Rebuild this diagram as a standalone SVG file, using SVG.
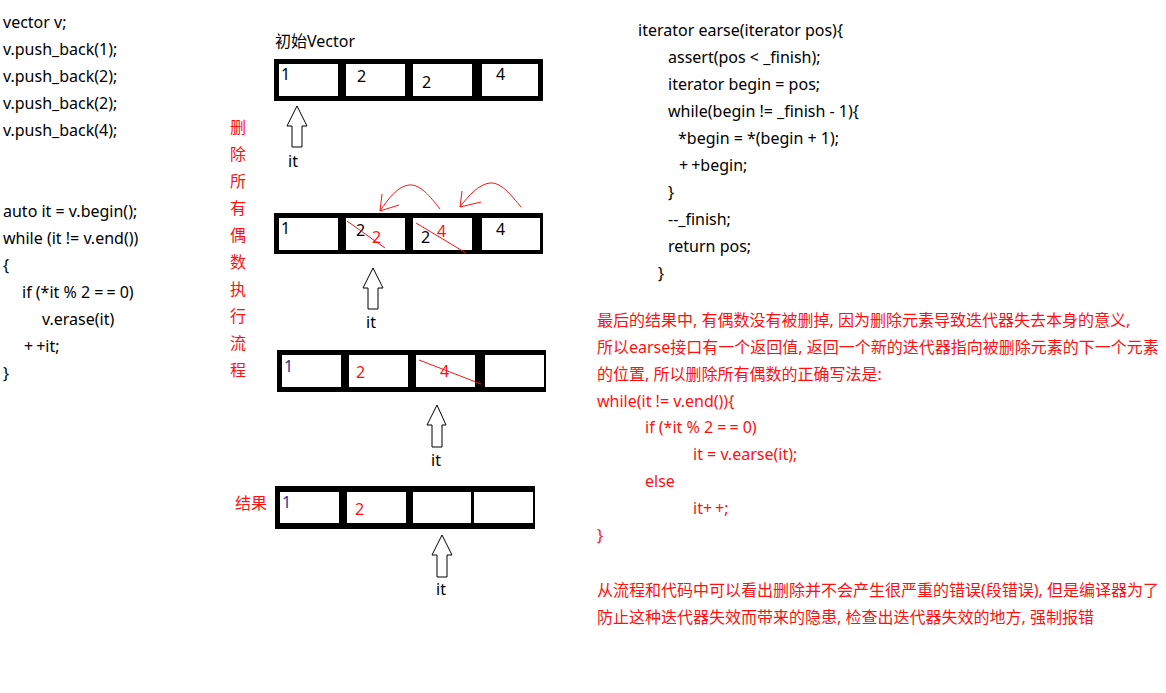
<svg xmlns="http://www.w3.org/2000/svg" width="1166" height="693" viewBox="0 0 1166 693">
<style>
text{font-family:"Noto Sans","Noto Sans CJK SC",sans-serif;font-size:16px;fill:#000}
.r{fill:#ff1010}
.b{fill:#1a3a8a}
.op{letter-spacing:3px}
.frame{fill:#000}
.cell{fill:#fff}
.hollow{fill:#fff;stroke:#000;stroke-width:1}
.red{fill:none;stroke:#ff1010;stroke-width:1}
</style>
<rect width="1166" height="693" fill="#fff"/>
<g id="code-left">
<text x="3" y="28">vector v;</text>
<text x="3" y="55">v.push_back(1);</text>
<text x="3" y="82">v.push_back(2);</text>
<text x="3" y="109">v.push_back(2);</text>
<text x="3" y="136">v.push_back(4);</text>
<text x="3" y="217">auto it = v.begin();</text>
<text x="3" y="244">while (it != v.end())</text>
<text x="3" y="271">{</text>
<text x="22" y="298">if (*it % 2 <tspan class="op">=</tspan>= 0)</text>
<text x="42" y="325">v.erase(it)</text>
<text x="24" y="352"><tspan class="op">+</tspan>+it;</text>
<text x="3" y="379">}</text>
</g>
<g id="label-vertical">
<text class="r" x="230" y="133">删</text>
<text class="r" x="230" y="160">除</text>
<text class="r" x="230" y="187">所</text>
<text class="r" x="230" y="214">有</text>
<text class="r" x="230" y="241">偶</text>
<text class="r" x="230" y="268">数</text>
<text class="r" x="230" y="295">执</text>
<text class="r" x="230" y="322">行</text>
<text class="r" x="230" y="349">流</text>
<text class="r" x="230" y="376">程</text>
</g>
<g id="vector-initial">
<text x="275" y="47">初始Vector</text>
<rect class="frame" x="274" y="59" width="269" height="42"/>
<rect class="cell" x="279" y="64" width="59" height="32"/>
<rect class="cell" x="346" y="64" width="59" height="32"/>
<rect class="cell" x="413" y="64" width="59" height="32"/>
<rect class="cell" x="482" y="64" width="56" height="32"/>
<text x="281" y="80">1</text>
<text x="357" y="82">2</text>
<text x="422" y="88">2</text>
<text x="496" y="80">4</text>
</g>
<g id="it-1">
<polygon class="hollow" points="297,106 307,126 302,126 302,147 292,147 292,126 287,126"/>
<text x="288" y="167">it</text>
</g>
<g id="vector-step1">
<rect class="frame" x="274" y="213" width="269" height="41"/>
<rect class="cell" x="279" y="218" width="59" height="32"/>
<rect class="cell" x="346" y="218" width="59" height="32"/>
<rect class="cell" x="413" y="218" width="59" height="32"/>
<rect class="cell" x="482" y="218" width="58" height="32"/>
<text x="281" y="234">1</text>
<text x="356" y="236">2</text>
<text class="r" x="372" y="243">2</text>
<text x="421" y="243">2</text>
<text class="r" x="437" y="237">4</text>
<text x="496" y="235">4</text>
</g>
<g id="it-2">
<polygon class="hollow" points="373,268 383,288 378,288 378,309 368,309 368,288 363,288"/>
<text x="366" y="328">it</text>
</g>
<g id="vector-step2">
<rect class="frame" x="277" y="350" width="269" height="42"/>
<rect class="cell" x="282" y="355" width="59" height="32"/>
<rect class="cell" x="349" y="355" width="59" height="32"/>
<rect class="cell" x="416" y="355" width="59" height="32"/>
<rect class="cell" x="485" y="355" width="59" height="32"/>
<text class="b" x="284" y="372">1</text>
<text class="r" x="356" y="378">2</text>
<text class="r" x="440" y="377">4</text>
</g>
<g id="it-3">
<polygon class="hollow" points="437,405 446,425 442,425 442,447 432,447 432,425 427,425"/>
<text x="431" y="466">it</text>
</g>
<g id="vector-result">
<text class="r" x="235" y="509">结果</text>
<rect class="frame" x="275" y="486" width="260" height="43"/>
<rect class="cell" x="280" y="492" width="59" height="31"/>
<rect class="cell" x="347" y="492" width="59" height="31"/>
<rect class="cell" x="413" y="492" width="58" height="31"/>
<rect class="cell" x="474" y="492" width="59" height="31"/>
<text class="b" x="282" y="508">1</text>
<text class="r" x="355" y="515">2</text>
</g>
<g id="it-4">
<polygon class="hollow" points="442,535 452,555 447,555 447,577 437,577 437,555 432,555"/>
<text x="436" y="595">it</text>
</g>
<g id="connectors">
<path class="red" d="M440,209 C430,196 420,184 409,185 C398,186 388,199 380,211 M380,211 L382,194 M380,211 L399,205"/>
<path class="red" d="M521,207 C511,195 501,182 490,183 C479,184 468,196 460,207 M460,207 L462,191 M460,207 L481,202"/>
<line class="red" x1="347" y1="221" x2="385" y2="248"/>
<line class="red" x1="416" y1="223" x2="466" y2="253"/>
<line class="red" x1="419" y1="360" x2="481" y2="384"/>
</g>
<g id="code-right">
<text x="638" y="36">iterator earse(iterator pos){</text>
<text x="668" y="63">assert(pos &lt; _finish);</text>
<text x="668" y="90">iterator begin = pos;</text>
<text x="668" y="117">while(begin != _finish - 1){</text>
<text x="678" y="144">*begin = *(begin + 1);</text>
<text x="679" y="171"><tspan class="op">+</tspan>+begin;</text>
<text x="668" y="198">}</text>
<text x="668" y="225">--_finish;</text>
<text x="668" y="252">return pos;</text>
<text x="658" y="279">}</text>
</g>
<g id="explanation">
<text class="r" x="597" y="326">最后的结果中, 有偶数没有被删掉, 因为删除元素导致迭代器失去本身的意义,</text>
<text class="r" x="597" y="353">所以earse接口有一个返回值, 返回一个新的迭代器指向被删除元素的下一个元素</text>
<text class="r" x="597" y="380">的位置, 所以删除所有偶数的正确写法是:</text>
<text class="r" x="597" y="407">while(it != v.end()){</text>
<text class="r" x="645" y="433">if (*it % 2 <tspan class="op">=</tspan>= 0)</text>
<text class="r" x="693" y="460">it = v.earse(it);</text>
<text class="r" x="645" y="487">else</text>
<text class="r" x="693" y="514">it<tspan class="op">+</tspan>+;</text>
<text class="r" x="597" y="541">}</text>
<text class="r" x="597" y="596">从流程和代码中可以看出删除并不会产生很严重的错误(段错误), 但是编译器为了</text>
<text class="r" x="597" y="623">防止这种迭代器失效而带来的隐患, 检查出迭代器失效的地方, 强制报错</text>
</g>
</svg>
